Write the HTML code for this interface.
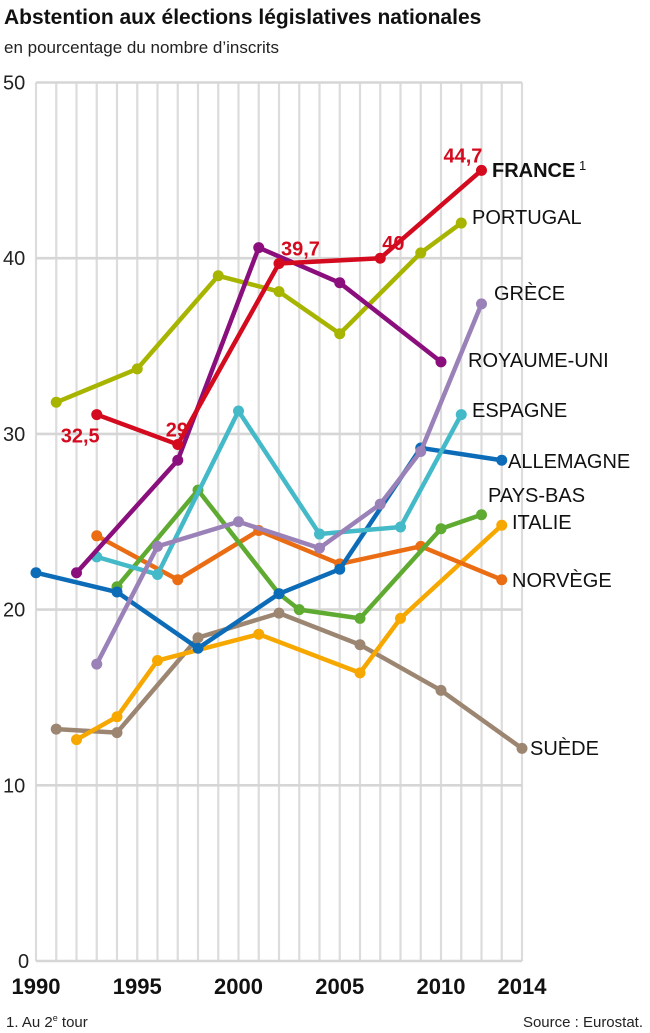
<!DOCTYPE html>
<html><head><meta charset="utf-8"><style>
body{margin:0;background:#fff;}
svg{display:block;font-family:"Liberation Sans",sans-serif;}
</style></head><body>
<svg id="chart" width="650" height="1033" viewBox="0 0 650 1033">
<text x="4" y="24" font-size="21" font-weight="bold" fill="#111">Abstention aux élections législatives nationales</text>
<text x="4" y="53" font-size="17" fill="#222">en pourcentage du nombre d’inscrits</text>
<g id="grid"></g>
<g id="yticks"></g>
<g id="xticks"></g>
<g id="series"></g>
<g id="labels"></g>
<text x="6" y="1027" font-size="15" fill="#222">1. Au 2<tspan font-size="9" dy="-6">e</tspan><tspan dy="6"> tour</tspan></text>
<text x="643" y="1027" font-size="15" fill="#222" text-anchor="end">Source : Eurostat.</text>
</svg>
<script>
const yTicks=[0,10,20,30,40,50];
const xTickLabels=[1990,1995,2000,2005,2010,2014];
const franceYears=[1993,1997,2002,2007,2012];
const franceVals=[31.1,29.4,39.7,40.0,45.0];
const franceValueLabels=["32,5","29","39,7","40","44,7"];
const portugalYears=[1991,1995,1999,2002,2005,2009,2011];
const portugalVals=[31.8,33.7,39.0,38.1,35.7,40.3,42.0];
const ukYears=[1992,1997,2001,2005,2010];
const ukVals=[22.1,28.5,40.6,38.6,34.1];
const greeceYears=[1993,1996,2000,2004,2007,2009,2012];
const greeceVals=[16.9,23.6,25.0,23.5,26.0,29.0,37.4];
const spainYears=[1993,1996,2000,2004,2008,2011];
const spainVals=[23.0,22.0,31.3,24.3,24.7,31.1];
const germanyYears=[1990,1994,1998,2002,2005,2009,2013];
const germanyVals=[22.1,21.0,17.8,20.9,22.3,29.2,28.5];
const nlYears=[1994,1998,2002,2003,2006,2010,2012];
const nlVals=[21.3,26.8,20.9,20.0,19.5,24.6,25.4];
const norwayYears=[1993,1997,2001,2005,2009,2013];
const norwayVals=[24.2,21.7,24.5,22.6,23.6,21.7];
const italyYears=[1992,1994,1996,2001,2006,2008,2013];
const italyVals=[12.6,13.9,17.1,18.6,16.4,19.5,24.8];
const swedenYears=[1991,1994,1998,2002,2006,2010,2014];
const swedenVals=[13.2,13.0,18.4,19.8,18.0,15.4,12.1];

const NS="http://www.w3.org/2000/svg";
const X=y=>36+(y-1990)*20.25;
const Y=v=>961-v*17.57;
function mk(tag,attrs,parent){const e=document.createElementNS(NS,tag);for(const k in attrs)e.setAttribute(k,attrs[k]);parent.appendChild(e);return e;}
const grid=document.getElementById('grid');
for(let yr=1990;yr<=2014;yr++){const l=mk('line',{x1:X(yr),x2:X(yr),y1:Y(50),y2:Y(0),stroke:'#dcdcdc','stroke-width':2.2},grid);

}
yTicks.forEach(v=>{const l=mk('line',{x1:X(1990),x2:X(2014),y1:Y(v),y2:Y(v),stroke:'#d6d6d6','stroke-width':2.6},grid);


const t=mk('text',{x:v===0?18:3,y:Y(v)+7,'font-size':20,fill:'#222'},document.getElementById('yticks'));t.textContent=v;

});
xTickLabels.forEach(yr=>{const t=mk('text',{x:X(yr),y:994,'font-size':22,'font-weight':'bold','text-anchor':'middle',fill:'#111'},document.getElementById('xticks'));t.textContent=yr;

});
const series=[
['sweden',swedenYears,swedenVals,'#9c8672'],
['italy',italyYears,italyVals,'#f7a800'],
['norway',norwayYears,norwayVals,'#ea6d14'],
['netherlands',nlYears,nlVals,'#5fab32'],
['germany',germanyYears,germanyVals,'#0d6cb8'],
['spain',spainYears,spainVals,'#44b9c8'],
['greece',greeceYears,greeceVals,'#9a82b8'],
['portugal',portugalYears,portugalVals,'#a8b500'],
['uk',ukYears,ukVals,'#8a0f7d'],
['france',franceYears,franceVals,'#d40a1e']];
const sg=document.getElementById('series');
series.forEach(([n,ys,vs,c])=>{const g=mk('g',{},sg);


const p=mk('polyline',{points:ys.map((y,i)=>X(y)+','+Y(vs[i])).join(' '),fill:'none',stroke:c,'stroke-width':4.5,'stroke-linejoin':'round'},g);


ys.forEach((y,i)=>{const d=mk('circle',{cx:X(y),cy:Y(vs[i]),r:5.5,fill:c},g);

});});
const lg=document.getElementById('labels');
const offs=[[-36,28],[-12,-8],[2,-8],[2,-8],[-38,-8]];
franceYears.forEach((y,i)=>{const t=mk('text',{x:X(y)+offs[i][0],y:Y(franceVals[i])+offs[i][1],'font-size':20,'font-weight':'bold',fill:'#d40a1e'},lg);t.textContent=franceValueLabels[i];

});
const names=[['FRANCE',492,177,true,'#111'],['PORTUGAL',472,224],['GRÈCE',494,300],['ROYAUME-UNI',468,367],['ESPAGNE',472,417],['ALLEMAGNE',508,468],['PAYS-BAS',488,502],['ITALIE',512,529],['NORVÈGE',512,587],['SUÈDE',530,755]];
names.forEach(([s,x,y,b])=>{const t=mk('text',{x:x,y:y,'font-size':20,'font-weight':b?'bold':'normal',fill:'#111'},lg);t.textContent=s;
if(b){const sp=mk('tspan',{'font-size':13,dy:-7,'font-weight':'normal'},t);sp.textContent=' 1';}

});
</script>
</body></html>
